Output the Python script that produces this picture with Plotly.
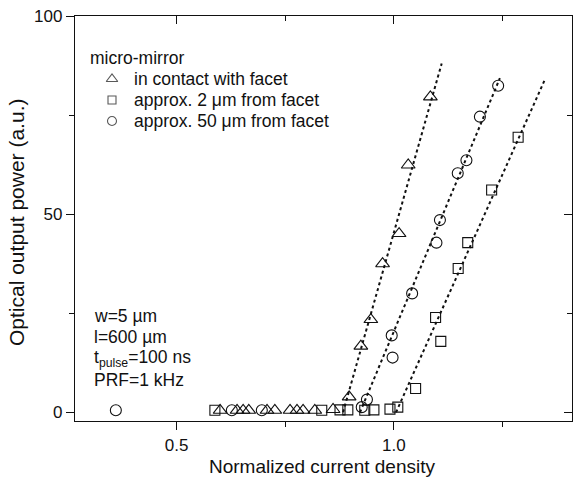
import plotly.graph_objects as go

# ---- data ----
tri_x = [0.600, 0.639, 0.653, 0.666, 0.708, 0.726, 0.761, 0.777, 0.791, 0.818, 0.860,
         0.897, 0.924, 0.947, 0.974, 1.012, 1.033, 1.084]
tri_y = [0.5, 0.5, 0.5, 0.5, 0.5, 0.5, 0.5, 0.5, 0.5, 0.5, 0.7,
         3.9, 16.7, 23.4, 37.5, 45.1, 62.4, 79.6]

sq_x = [0.588, 0.834, 0.876, 0.894, 0.933, 0.954, 0.991, 1.009,
        1.050, 1.108, 1.096, 1.148, 1.170, 1.225, 1.286]
sq_y = [0.5, 0.5, 0.6, 0.6, 0.5, 0.6, 0.8, 1.3,
        6.0, 17.9, 23.9, 36.3, 42.8, 56.1, 69.4]

circ_x = [0.360, 0.627, 0.696, 0.926, 0.938, 0.997, 0.995, 1.042, 1.098, 1.106,
          1.147, 1.167, 1.198, 1.240]
circ_y = [0.5, 0.5, 0.5, 1.3, 3.2, 13.8, 19.4, 30.0, 42.8, 48.5,
          60.3, 63.6, 74.6, 82.4]

# dotted linear fits (endpoints)
fit_tri_x = [0.883, 1.110]
fit_tri_y = [0.0, 88.0]
fit_circ_x = [0.922, 1.244]
fit_circ_y = [0.0, 84.3]
fit_sq_x = [1.005, 1.347]
fit_sq_y = [0.0, 83.8]

series_names = ["in contact with facet", "approx. 2 μm from facet", "approx. 50 μm from facet"]
series_symbols = ["triangle-up-open", "square-open", "circle-open"]
legend_title = "micro-mirror"
info_lines = ["w=5 µm", "l=600 µm", "t<sub>pulse</sub>=100 ns", "PRF=1 kHz"]
x_title = "Normalized current density"
y_title = "Optical output power (a.u.)"

x_range = [0.266, 1.41]
y_range = [-2.2, 100]
x_ticks = [0.5, 1.0]
x_minor = [0.75, 1.25]
y_ticks = [0, 50, 100]
y_minor = [25, 75]

FONT = "Liberation Sans, Arial, sans-serif"
INK = "#111111"

# plot-area geometry in pixels
W, H = 573, 477
L, R, T, B = 75, 572, 16, 421
PW, PH = R - L, B - T


def px_x(p):
    return (p - L) / PW


def px_y(p):
    return (B - p) / PH


fig = go.Figure()

for fx, fy in [(fit_tri_x, fit_tri_y), (fit_circ_x, fit_circ_y), (fit_sq_x, fit_sq_y)]:
    fig.add_trace(go.Scatter(x=fx, y=fy, mode="lines", showlegend=False,
                             line=dict(color=INK, width=2, dash="dot"), hoverinfo="skip"))

marker_sizes = [12, 10, 11]
for xs, ys, nm, sym, sz in zip([tri_x, sq_x, circ_x], [tri_y, sq_y, circ_y],
                               series_names, series_symbols, marker_sizes):
    fig.add_trace(go.Scatter(x=xs, y=ys, mode="markers", name=nm, showlegend=False,
                             marker=dict(symbol=sym, size=sz, color=INK,
                                         line=dict(width=1.1))))

# invisible trace for mirror axes (top / right)
fig.add_trace(go.Scatter(x=[None], y=[None], xaxis="x2", yaxis="y2", showlegend=False,
                         hoverinfo="skip"))

# legend drawn in plot-fraction coordinates on a hidden overlay axis
leg_sym_px = 112
leg_rows_px = [79, 100, 121]
fig.add_trace(go.Scatter(
    x=[px_x(leg_sym_px)] * 3, y=[px_y(p) for p in leg_rows_px],
    xaxis="x3", yaxis="y3", mode="markers", showlegend=False, hoverinfo="skip",
    marker=dict(symbol=series_symbols, size=[10, 8, 9], color=INK, line=dict(width=1.1))))

axis_common = dict(showgrid=False, zeroline=False, showline=True, linecolor=INK,
                   linewidth=1.3, tickcolor=INK, tickwidth=1.3, automargin=False)

fig.update_layout(
    width=W, height=H,
    margin=dict(l=L, r=W - R, t=T, b=H - B),
    paper_bgcolor="white", plot_bgcolor="white",
    font=dict(family=FONT, color=INK, size=17),
    showlegend=False,
    xaxis=dict(range=x_range, tickvals=x_ticks, ticktext=["0.5", "1.0"], ticks="outside",
               ticklen=8, tickfont=dict(size=17),
               minor=dict(tickvals=x_minor, ticks="outside", ticklen=5, tickcolor=INK, tickwidth=1.3),
               **axis_common),
    yaxis=dict(range=y_range, tickvals=y_ticks, ticks="outside", ticklen=8,
               tickfont=dict(size=17),
               minor=dict(tickvals=y_minor, ticks="outside", ticklen=5, tickcolor=INK, tickwidth=1.3),
               **axis_common),
    xaxis2=dict(range=x_range, overlaying="x", side="top", anchor="y", tickvals=x_ticks,
                ticks="inside", ticklen=8, showticklabels=False,
                minor=dict(tickvals=x_minor, ticks="inside", ticklen=5, tickcolor=INK, tickwidth=1.3),
                **axis_common),
    yaxis2=dict(range=y_range, overlaying="y", side="right", anchor="x", tickvals=y_ticks,
                ticks="inside", ticklen=8, showticklabels=False,
                minor=dict(tickvals=y_minor, ticks="inside", ticklen=5, tickcolor=INK, tickwidth=1.3),
                **axis_common),
    xaxis3=dict(range=[0, 1], overlaying="x", anchor="y3", visible=False, fixedrange=True),
    yaxis3=dict(range=[0, 1], overlaying="y", anchor="x3", visible=False, fixedrange=True),
)

# axis titles
fig.add_annotation(text=x_title, xref="paper", yref="paper", x=px_x(322), y=px_y(466),
                   xanchor="center", yanchor="middle", showarrow=False,
                   font=dict(size=19, color=INK))
fig.add_annotation(text=y_title, xref="paper", yref="paper", x=px_x(17), y=px_y(223),
                   xanchor="center", yanchor="middle", showarrow=False, textangle=-90,
                   font=dict(size=21, color=INK))

# legend texts
fig.add_annotation(text=legend_title, xref="paper", yref="paper", x=px_x(88), y=px_y(58),
                   xanchor="left", yanchor="middle", showarrow=False,
                   font=dict(size=17.5, color=INK))
for nm, py in zip(series_names, leg_rows_px):
    fig.add_annotation(text=nm, xref="paper", yref="paper", x=px_x(132), y=px_y(py),
                       xanchor="left", yanchor="middle", showarrow=False,
                       font=dict(size=17.5, color=INK))

info_y = [316, 337, 358, 380]
for txt, py in zip(info_lines, info_y):
    fig.add_annotation(text=txt, xref="paper", yref="paper", x=px_x(92),
                       y=px_y(py), xanchor="left", yanchor="middle",
                       showarrow=False, font=dict(size=17.5, color=INK))

fig.write_html("out.html", config={"displayModeBar": False},
               post_script="document.body.style.margin='0px';")
